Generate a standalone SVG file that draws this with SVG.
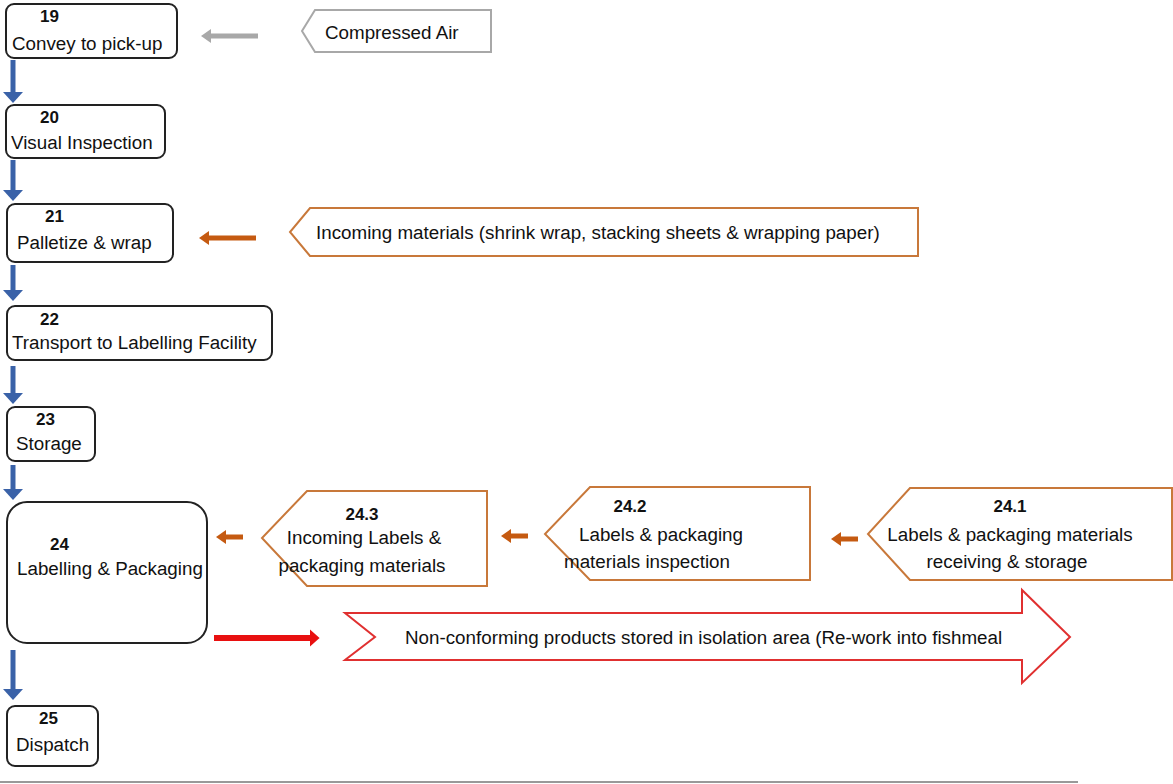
<svg xmlns="http://www.w3.org/2000/svg" width="1173" height="784" viewBox="0 0 1173 784">
<style>
.box{fill:#fff;stroke:#222;stroke-width:2}
.t{font-family:"Liberation Sans",Arial,sans-serif;font-size:18.8px;fill:#111}
.n{font-family:"Liberation Sans",Arial,sans-serif;font-size:17px;font-weight:bold;fill:#111}
.or{fill:#fff;stroke:#c8783a;stroke-width:2}
.gr{fill:#fff;stroke:#a8a8a8;stroke-width:2}
.blue{stroke:#3a62a8;stroke-width:5;fill:none}
.orange{stroke:#c55a11;stroke-width:5;fill:none}
.grey{stroke:#a8a8a8;stroke-width:5;fill:none}
.red{stroke:#e81010;stroke-width:6;fill:none}
</style>
<defs>
<marker id="hb" markerWidth="4" markerHeight="4" refX="1" refY="2" orient="auto" markerUnits="strokeWidth"><path d="M0,0 L2.2,2 L0,4 Z" fill="#3a62a8"/></marker>
<marker id="ho" markerWidth="4" markerHeight="4" refX="1" refY="2" orient="auto" markerUnits="strokeWidth"><path d="M0,0.6 L2,2 L0,3.4 Z" fill="#c55a11"/></marker>
<marker id="hg" markerWidth="4" markerHeight="4" refX="1" refY="2" orient="auto" markerUnits="strokeWidth"><path d="M0,0.6 L2,2 L0,3.4 Z" fill="#a8a8a8"/></marker>
<marker id="hr" markerWidth="4" markerHeight="4" refX="1" refY="2" orient="auto" markerUnits="strokeWidth"><path d="M0,0.6 L1.6,2 L0,3.4 Z" fill="#e81010"/></marker>
</defs>
<g id="connectors">
<line class="blue" x1="13" y1="60" x2="13" y2="97" marker-end="url(#hb)"/>
<line class="blue" x1="13" y1="160" x2="13" y2="195" marker-end="url(#hb)"/>
<line class="blue" x1="13" y1="265" x2="13" y2="295" marker-end="url(#hb)"/>
<line class="blue" x1="13" y1="366" x2="13" y2="398" marker-end="url(#hb)"/>
<line class="blue" x1="13" y1="465" x2="13" y2="494" marker-end="url(#hb)"/>
<line class="blue" x1="13" y1="650" x2="13" y2="694" marker-end="url(#hb)"/>
<line class="grey" x1="258" y1="36" x2="206" y2="36" marker-end="url(#hg)"/>
<line class="orange" x1="256" y1="238" x2="204" y2="238" marker-end="url(#ho)"/>
<line class="orange" x1="243" y1="537" x2="221" y2="537" marker-end="url(#ho)"/>
<line class="orange" x1="528" y1="536" x2="506" y2="536" marker-end="url(#ho)"/>
<line class="orange" x1="858" y1="539" x2="836" y2="539" marker-end="url(#ho)"/>
<line class="red" x1="214" y1="638" x2="316" y2="638" marker-end="url(#hr)"/>
</g>
<g id="n19"><rect class="box" x="6" y="4" width="171" height="54" rx="8"/><text class="n" x="40" y="22">19</text><text class="t" x="12" y="50">Convey to pick-up</text></g>
<g id="n20"><rect class="box" x="6" y="105" width="159" height="53" rx="8"/><text class="n" x="40" y="123">20</text><text class="t" x="11" y="149">Visual Inspection</text></g>
<g id="n21"><rect class="box" x="7" y="204" width="166" height="58" rx="8"/><text class="n" x="45" y="222">21</text><text class="t" x="17" y="249">Palletize &amp; wrap</text></g>
<g id="n22"><rect class="box" x="7" y="306" width="265" height="54" rx="8"/><text class="n" x="40" y="325">22</text><text class="t" x="12" y="349">Transport to Labelling Facility</text></g>
<g id="n23"><rect class="box" x="7" y="407" width="88" height="54" rx="8"/><text class="n" x="36" y="425">23</text><text class="t" x="16" y="450">Storage</text></g>
<g id="n24"><rect class="box" x="7" y="502" width="200" height="141" rx="20"/><text class="n" x="50" y="550">24</text><text class="t" x="17" y="575">Labelling &amp; Packaging</text></g>
<g id="n25"><rect class="box" x="7" y="706" width="91" height="60" rx="8"/><text class="n" x="39" y="724">25</text><text class="t" x="16" y="751">Dispatch</text></g>
<g id="compressed-air"><polygon class="gr" points="315,10 491,10 491,52 315,52 302,31"/><text class="t" x="325" y="39">Compressed Air</text></g>
<g id="incoming-materials"><polygon class="or" points="310,208 918,208 918,256 310,256 290,232"/><text class="t" x="316" y="239">Incoming materials (shrink wrap, stacking sheets &amp; wrapping paper)</text></g>
<g id="n24-3"><polygon class="or" points="307,491 487,491 487,586 307,586 262,538"/><text class="n" x="362" y="520" text-anchor="middle">24.3</text><text class="t" x="364" y="544" text-anchor="middle">Incoming Labels &amp;</text><text class="t" x="362" y="572" text-anchor="middle">packaging materials</text></g>
<g id="n24-2"><polygon class="or" points="590,487 810,487 810,580 590,580 545,534"/><text class="n" x="630" y="512" text-anchor="middle">24.2</text><text class="t" x="661" y="541" text-anchor="middle">Labels &amp; packaging</text><text class="t" x="647" y="568" text-anchor="middle">materials inspection</text></g>
<g id="n24-1"><polygon class="or" points="910,488 1172,488 1172,580 910,580 868,534"/><text class="n" x="1010" y="512" text-anchor="middle">24.1</text><text class="t" x="1010" y="541" text-anchor="middle">Labels &amp; packaging materials</text><text class="t" x="1007" y="568" text-anchor="middle">receiving &amp; storage</text></g>
<g id="non-conforming"><polygon points="345,613 1022,613 1022,590 1070,637 1022,683 1022,660 345,660 375,637" fill="#fff" stroke="#e03030" stroke-width="2"/><text class="t" x="405" y="644">Non-conforming products stored in isolation area (Re-work into fishmeal</text></g>
<line x1="0" y1="782" x2="1078" y2="782" stroke="#777" stroke-width="1.5"/>
</svg>
